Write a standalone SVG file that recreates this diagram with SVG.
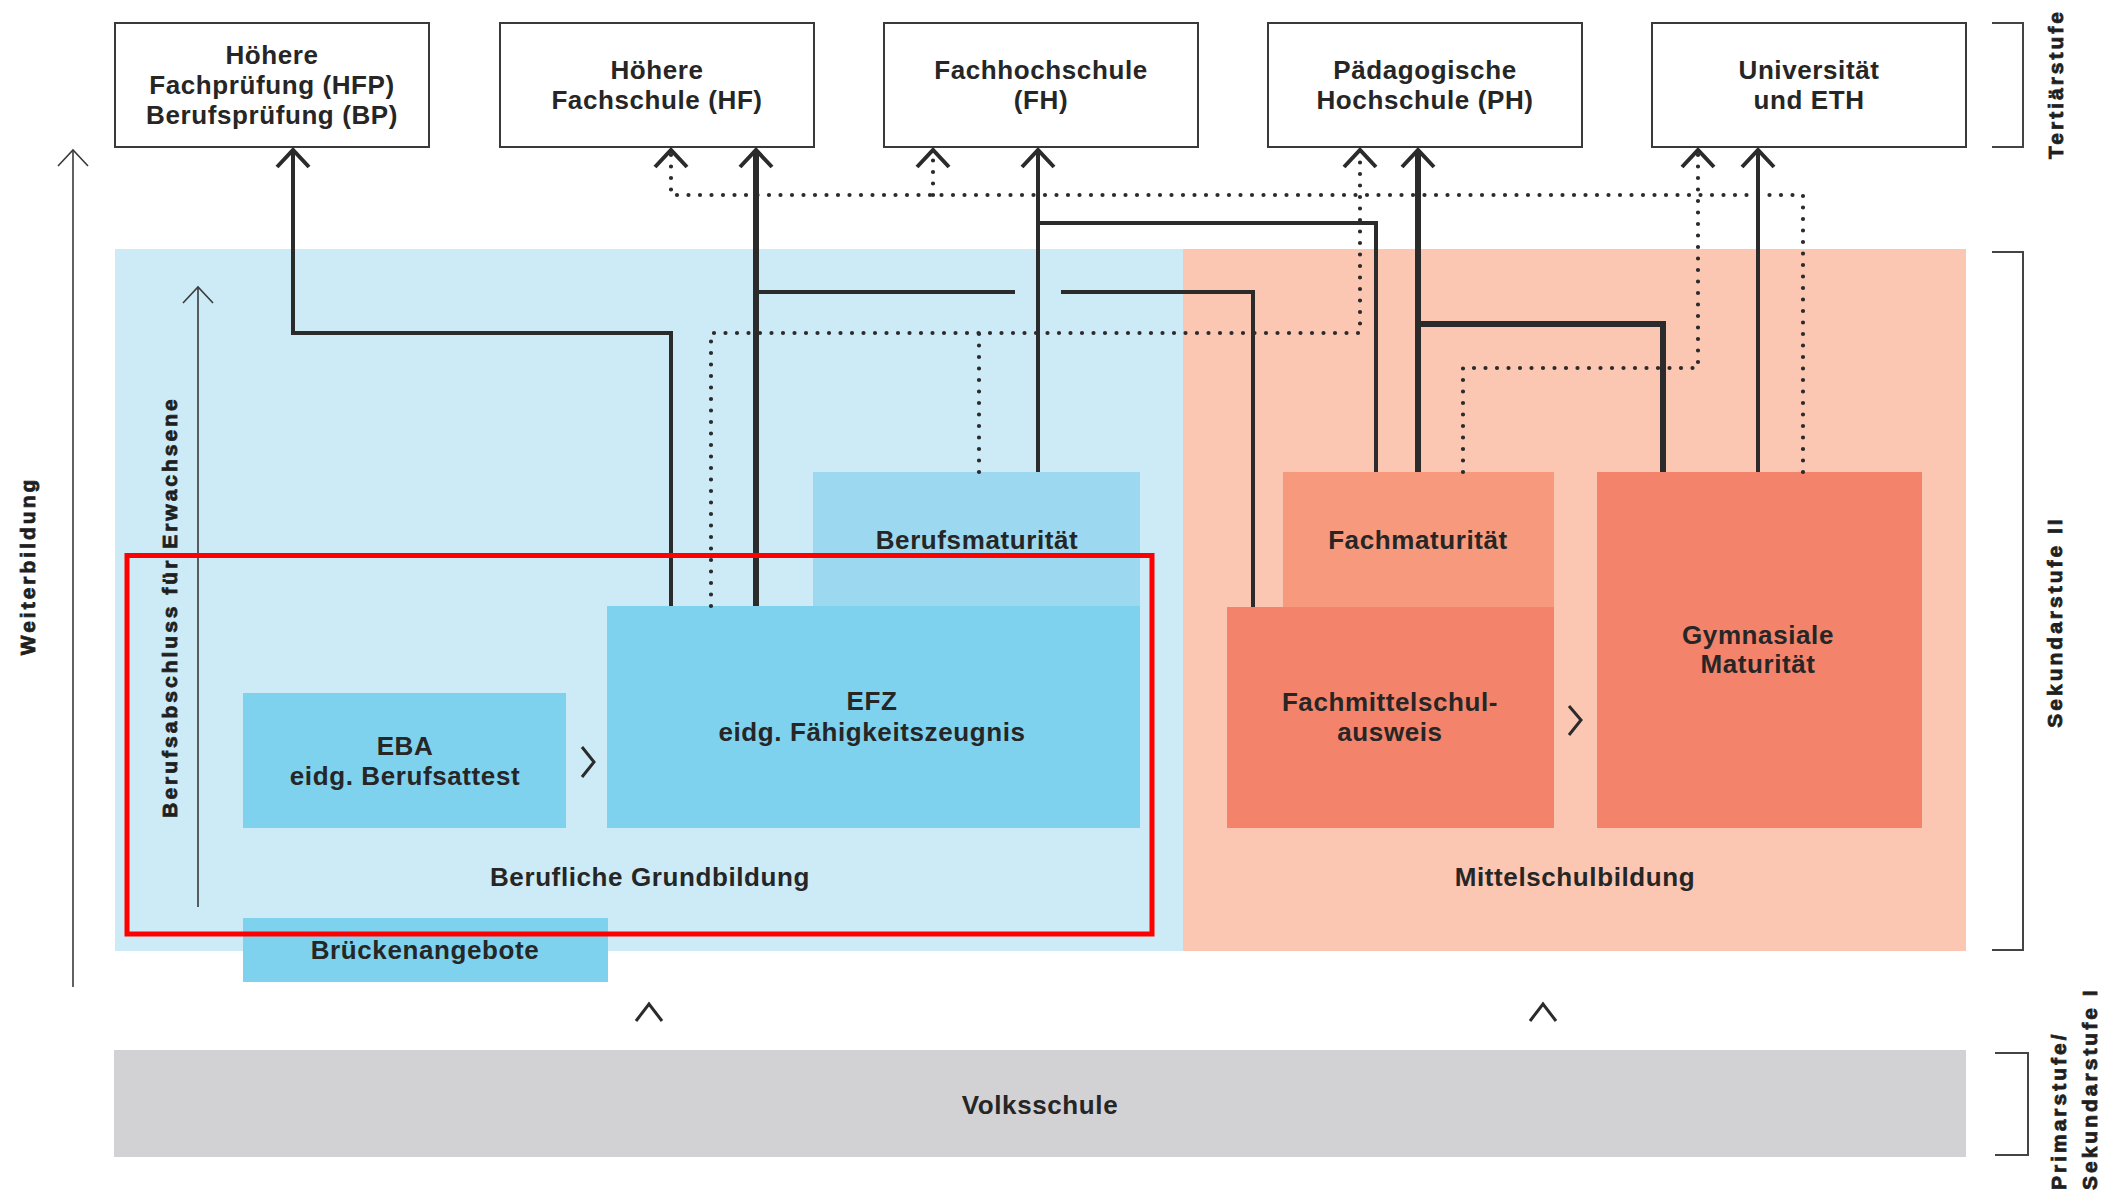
<svg xmlns="http://www.w3.org/2000/svg" width="2111" height="1194" viewBox="0 0 2111 1194">
<style>
.lbl{font-family:"Liberation Sans",Arial,Helvetica,sans-serif;font-weight:700;font-size:26px;letter-spacing:0.6px;fill:#262626;text-anchor:middle}
.rot{font-family:"Liberation Sans",Arial,Helvetica,sans-serif;font-weight:700;font-size:21px;letter-spacing:3px;fill:#1f1f1f;stroke:#1f1f1f;stroke-width:0.8}
.tbox{fill:#ffffff;stroke:#3a3a3a;stroke-width:2}
.solid{fill:none;stroke:#2b2b2b;stroke-width:4;stroke-linejoin:miter}
.thick{fill:none;stroke:#2b2b2b;stroke-width:6;stroke-linejoin:miter}
.dot{fill:none;stroke:#2b2b2b;stroke-width:4.2;stroke-linecap:round;stroke-dasharray:0 11.5}
.thin{fill:none;stroke:#3a3a3a;stroke-width:1.6}
.chev{fill:none;stroke:#2b2b2b;stroke-width:3}
.brk{fill:none;stroke:#444;stroke-width:2}
</style>
<defs>
<marker id="arr" markerUnits="userSpaceOnUse" markerWidth="40" markerHeight="40" refX="0" refY="0" orient="auto" overflow="visible" viewBox="-20 -20 40 40">
<path d="M-17,-16 L0,0 L-17,16" fill="none" stroke="#2b2b2b" stroke-width="4"/>
</marker>
<marker id="arrThin" markerUnits="userSpaceOnUse" markerWidth="40" markerHeight="40" refX="0" refY="0" orient="auto" overflow="visible" viewBox="-20 -20 40 40">
<path d="M-16,-15 L0,0 L-16,15" fill="none" stroke="#3a3a3a" stroke-width="1.6"/>
</marker>
</defs>
<rect width="2111" height="1194" fill="#ffffff"/>

<!-- backgrounds -->
<g id="bg-berufsbildung"><rect x="115" y="249" width="1068" height="702" fill="#CCEBF6"/></g>
<g id="bg-mittelschule"><rect x="1183" y="249" width="783" height="702" fill="#FCC7B2"/></g>

<!-- tertiary nodes -->
<g id="hfp-bp"><rect class="tbox" x="115" y="23" width="314" height="124"/>
<text class="lbl" x="272" y="64">Höhere</text><text class="lbl" x="272" y="94">Fachprüfung (HFP)</text><text class="lbl" x="272" y="124">Berufsprüfung (BP)</text></g>
<g id="hf"><rect class="tbox" x="500" y="23" width="314" height="124"/>
<text class="lbl" x="657" y="79">Höhere</text><text class="lbl" x="657" y="109">Fachschule (HF)</text></g>
<g id="fh"><rect class="tbox" x="884" y="23" width="314" height="124"/>
<text class="lbl" x="1041" y="79">Fachhochschule</text><text class="lbl" x="1041" y="109">(FH)</text></g>
<g id="ph"><rect class="tbox" x="1268" y="23" width="314" height="124"/>
<text class="lbl" x="1425" y="79">Pädagogische</text><text class="lbl" x="1425" y="109">Hochschule (PH)</text></g>
<g id="uni"><rect class="tbox" x="1652" y="23" width="314" height="124"/>
<text class="lbl" x="1809" y="79">Universität</text><text class="lbl" x="1809" y="109">und ETH</text></g>

<!-- secondary II nodes -->
<g id="berufsmaturitaet"><rect x="813" y="472" width="327" height="136" fill="#9CD9F1"/>
<text class="lbl" x="977" y="549">Berufsmaturität</text></g>
<g id="efz"><rect x="607" y="606" width="533" height="222" fill="#7FD2EE"/>
<text class="lbl" x="872" y="710">EFZ</text><text class="lbl" x="872" y="741">eidg. Fähigkeitszeugnis</text></g>
<g id="eba"><rect x="243" y="693" width="323" height="135" fill="#7FD2EE"/>
<text class="lbl" x="405" y="755">EBA</text><text class="lbl" x="405" y="785">eidg. Berufsattest</text></g>
<g id="brueckenangebote"><rect x="243" y="918" width="365" height="64" fill="#7FD2EE"/>
<text class="lbl" x="425" y="959">Brückenangebote</text></g>
<g id="fachmaturitaet"><rect x="1283" y="472" width="271" height="136" fill="#F7997D"/>
<text class="lbl" x="1418" y="549">Fachmaturität</text></g>
<g id="fms"><rect x="1227" y="607" width="327" height="221" fill="#F3836A"/>
<text class="lbl" x="1390" y="711">Fachmittelschul-</text><text class="lbl" x="1390" y="741">ausweis</text></g>
<g id="gymnasium"><rect x="1597" y="472" width="325" height="356" fill="#F3836A"/>
<text class="lbl" x="1758" y="644">Gymnasiale</text><text class="lbl" x="1758" y="673">Maturität</text></g>
<g id="volksschule"><rect x="114" y="1050" width="1852" height="107" fill="#D2D2D5"/>
<text class="lbl" x="1040" y="1114">Volksschule</text></g>

<!-- area labels -->
<g id="label-grundbildung"><text class="lbl" x="650" y="886">Berufliche Grundbildung</text></g>
<g id="label-mittelschule"><text class="lbl" x="1575" y="886">Mittelschulbildung</text></g>

<!-- connectors -->
<g id="connectors">
<path class="dot" d="M1803,472 V195 H671 V150" marker-end="url(#arr)"/>
<path class="dot" d="M933,195 V150" marker-end="url(#arr)"/>
<path class="dot" d="M711,606 V333 H1360 V150" marker-end="url(#arr)"/>
<path class="dot" d="M979,472 V333"/>
<path class="dot" d="M1463,472 V368 H1698 V150" marker-end="url(#arr)"/>

<path class="solid" d="M671,606 V333 H293 V150" marker-end="url(#arr)"/>
<path class="thick" d="M756,606 V150" marker-end="url(#arr)"/>
<path class="solid" d="M756,292 H1015"/>
<path class="solid" d="M1253,607 V292 H1061"/>
<path class="solid" d="M1038,472 V150" marker-end="url(#arr)"/>
<path class="solid" d="M1376,472 V223 H1038"/>
<path class="thick" d="M1418,472 V150" marker-end="url(#arr)"/>
<path class="thick" d="M1663,472 V324 H1418"/>
<path class="solid" d="M1758,472 V150" marker-end="url(#arr)"/>

<path class="chev" d="M582,747 L594,762 L582,777"/>
<path class="chev" d="M1569,706 L1581,720 L1569,735"/>
<path class="chev" d="M636,1021 L649,1004 L662,1021"/>
<path class="chev" d="M1530,1021 L1543,1004 L1556,1021"/>

<path class="thin" d="M73,987 V150" marker-end="url(#arrThin)"/>
<path class="thin" d="M198,907 V287" marker-end="url(#arrThin)"/>
</g>

<!-- side labels and brackets -->
<g id="stufen">
<path class="brk" d="M1992,23 H2023 V147 H1992"/>
<path class="brk" d="M1992,252 H2023 V950 H1992"/>
<path class="brk" d="M1995,1053 H2028 V1155 H1995"/>
<text class="rot" transform="translate(2063,84) rotate(-90)" text-anchor="middle">Tertiärstufe</text>
<text class="rot" transform="translate(2062,622) rotate(-90)" text-anchor="middle">Sekundarstufe II</text>
<text class="rot" transform="translate(2066,1190) rotate(-90)">Primarstufe/</text>
<text class="rot" transform="translate(2097,1190) rotate(-90)">Sekundarstufe I</text>
<text class="rot" transform="translate(35,566) rotate(-90)" text-anchor="middle">Weiterbildung</text>
<text class="rot" transform="translate(177,607) rotate(-90)" text-anchor="middle">Berufsabschluss für Erwachsene</text>
</g>

<!-- highlight -->
<g id="highlight"><rect x="127" y="555.5" width="1025" height="378.5" fill="none" stroke="#FF0000" stroke-width="5"/></g>
</svg>
